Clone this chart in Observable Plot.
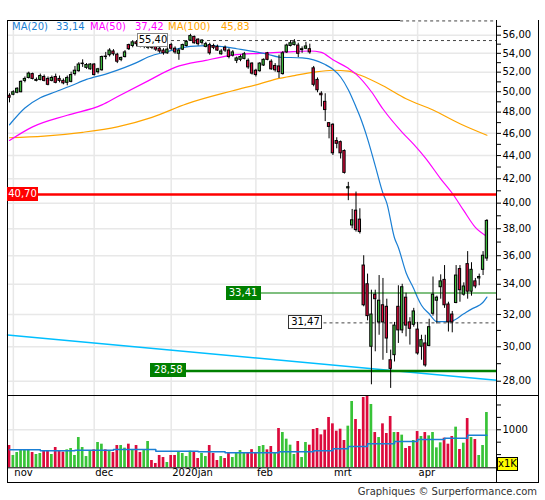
<!DOCTYPE html>
<html><head><meta charset="utf-8">
<script src="https://cdn.jsdelivr.net/npm/d3@7"></script>
<script src="https://cdn.jsdelivr.net/npm/@observablehq/plot@0.6"></script>
<style>
body{margin:0;background:#fff;}
#wrap{position:relative;width:545px;height:500px;font-family:"DejaVu Sans",Verdana,sans-serif;font-size:10px;overflow:hidden;}
#wrap svg{position:absolute;left:0;overflow:visible;}
.abs{position:absolute;white-space:nowrap;}
.lbl{position:absolute;white-space:nowrap;font-size:10px;height:14px;line-height:14px;text-align:center;box-sizing:border-box;}
</style></head><body><div id="wrap"></div>
<script>
// ---------- data ----------
const months = ["nov","dec","2020jan","feb","mrt","apr"];
const monthIdx = [1,22,42,64,84,106];

const open = [49.6,49.7,49.9,49.95,51.1,51.4,51.8,51.1,51.2,51.5, 51.3,51.1,51.5,51.3,51.1,50.9,51.0,51.8,52.1,52.9, 52.45,52.3,52.8,52.0,52.2,53.6,53.8,54.2,53.85,53.3, 53.6,54.9,54.8,55.2,55.1,54.7,54.6,54.9,54.7,54.5, 54.3,54.0,54.9,54.5,53.95,54.4,54.8,55.4,55.8,55.5, 55.15,54.7,54.9,54.8,54.7,53.9,54.6,54.3,53.75,53.2, 53.3,53.4,53.2,52.9,52.15,52.1,52.7,54.0,53.1,52.65, 52.6,51.8,54.1,54.8,54.9,54.85,54.35,54.5,54.45,52.4, 51.2,49.8,49.0,46.95,46.8,45.3,45.2,44.4,41.2,38.25, 39.4,38.7,35.3,34.0,30.0,33.3,31.5,32.6,32.5,29.2, 29.5,32.5,31.0,33.1,31.5,31.35,31.05,30.0,30.2,30.05, 32.05,32.9,33.8,34.3,32.65,32.0,32.75,35.05,33.3,35.4, 33.5,34.2,34.4,35.0,35.8];
const high = [49.8,50.1,50.4,51.1,51.5,52.0,51.9,51.4,51.8,51.7, 51.5,51.6,51.8,51.6,51.3,51.6,52.0,52.6,53.0,53.3, 52.9,52.9,52.9,52.4,53.7,54.1,54.5,54.4,54.0,53.6, 54.3,55.0,55.4,55.4,55.3,55.1,55.1,55.0,54.9,54.7, 54.5,54.6,55.1,54.7,54.5,55.0,55.4,56.1,55.9,55.6, 55.5,55.2,55.1,55.0,54.9,54.4,54.8,54.5,54.3,53.6, 53.8,54.1,53.4,53.0,52.3,53.0,53.4,54.1,53.3,52.9, 53.8,54.2,55.0,55.4,55.5,55.1,54.7,55.2,55.0,52.6, 51.4,50.0,49.8,47.0,46.9,45.6,45.3,44.5,41.7,39.5, 40.9,39.55,36.0,34.7,33.6,33.6,34.6,34.4,33.0,29.8, 31.5,33.9,34.0,33.4,31.8,32.4,31.5,30.7,30.7,31.7, 34.5,33.2,34.65,35.3,32.8,32.2,35.3,35.3,34.1,36.3, 35.5,34.4,34.7,36.3,38.7];
const low = [48.9,49.6,49.8,49.9,50.9,51.3,51.2,51.0,51.1,51.0, 50.6,51.0,50.8,50.9,50.7,50.6,50.9,51.6,52.0,52.5, 52.3,52.2,51.6,51.8,52.1,53.3,53.6,53.7,52.9,53.1, 53.5,54.3,54.6,54.7,54.6,54.5,54.4,54.4,54.2,54.0, 53.8,53.9,54.3,53.9,53.25,54.3,54.7,55.3,55.0,54.8, 54.9,54.6,53.8,54.4,54.2,53.8,54.1,53.4,53.6,52.9, 53.1,53.3,52.3,51.7,51.5,52.0,52.6,53.2,52.2,52.0, 51.35,51.7,54.0,54.7,54.8,53.55,54.0,54.4,53.9,50.5, 49.9,48.5,47.1,45.5,44.0,44.6,43.7,42.4,40.2,38.0, 37.75,37.6,32.5,31.6,27.8,29.7,30.7,29.2,29.6,27.6, 29.1,30.2,30.8,30.6,30.1,31.2,29.5,29.2,28.8,30.0, 31.9,31.4,33.0,32.4,30.9,30.85,32.7,32.8,33.2,33.0, 33.2,33.7,33.9,34.6,35.6];
const close = [49.4,49.95,50.3,51.0,51.3,51.85,51.3,51.2,51.6,51.1, 50.7,51.4,50.9,51.1,50.85,51.4,51.7,52.15,52.8,52.85, 52.75,52.8,51.7,52.3,53.6,53.65,54.3,53.9,53.1,53.5, 54.1,54.45,55.2,55.0,54.8,54.9,54.9,54.6,54.4,54.2, 54.0,54.4,54.5,54.1,54.3,54.9,55.25,55.9,55.1,55.0, 55.4,55.0,54.0,54.6,54.3,54.2,54.3,53.6,54.1,53.45, 53.6,53.9,52.5,51.85,51.7,52.9,53.3,53.3,52.3,52.2, 52.0,54.0,54.85,55.1,55.2,53.95,54.45,54.75,54.1,50.7, 50.15,49.65,48.2,46.6,44.2,45.05,44.2,42.5,41.3,38.65, 37.9,37.75,32.6,31.9,32.0,33.0,32.9,31.5,30.5,28.7, 31.3,31.0,33.8,31.3,31.1,32.2,29.6,30.4,28.9,31.2, 33.3,33.1,34.2,32.6,31.5,31.5,34.6,33.6,33.85,33.5, 35.0,33.85,34.5,36.0,38.6];

const volume = [683,482,542,596,596,596,542,502,522,582, 576,502,643,569,549,596,623,482,844,643, 461,562,596,744,710,596,562,542,683,683, 630,710,603,683,542,582,764,381,321,482, 441,341,482,482,542,522,461,569,542,421, 522,461,683,522,381,461,421,522,441,522, 582,522,542,600,535,663,683,596,663,535, 1026,945,811,690,502,764,441,744,690,1006, 1026,898,992,1248,1120,972,1012,784,1073,1570, 1207,1006,1651,1700,1510,945,844,1120,925,1268, 945,945,892,623,663,784,965,865,945,878, 945,636,737,831,710,865,1053,603,730,1227, 844,804,482,683,1348];
const volUp = [0,1,1,1,1,1,0,1,1,0, 0,1,0,0,0,1,1,1,1,1, 1,1,0,1,1,0,1,0,0,1, 1,0,1,0,0,1,1,0,0,0, 0,1,0,0,1,1,1,1,0,0, 1,1,0,0,0,1,0,0,1,1, 1,1,0,0,0,1,1,0,0,1, 0,1,1,1,1,0,1,1,0,0, 0,0,0,0,0,0,0,0,1,1, 0,0,0,0,1,0,1,0,0,0, 1,0,1,0,0,1,0,1,0,1, 1,1,1,0,0,0,1,0,1,0, 1,0,1,1,1];
const volMaIdx = [0,8,17,27,38,49,56,70,79,84,88,93,100,106,113,119,124];
const volMaVal = [596,576,589,603,569,556,535,556,576,616,663,717,764,804,831,892,892];

const ma20Idx = [0,4,8,12,16,20,25,30,33,36,41,47,52,56,59,64,67,70,76,79,82,84,86,88,90,91,93,95,97,98,100,101,103,105,106,107,109,111,113,115,118,120,122,123,124];
const ma20Val = [46.8,48.4,49.4,50.0,50.6,51.25,51.8,52.5,53.0,53.6,54.2,54.75,54.85,54.7,54.5,54.15,53.9,53.6,53.5,53.3,52.8,52.3,51.5,50.2,48.5,47.6,45.5,43.1,40.8,40.0,37.3,36.6,34.8,33.7,33.1,32.6,32.05,31.55,31.55,31.6,32.05,32.35,32.6,32.8,33.14];
const ma50Idx = [0,6,15,24,28,36,43,51,58,65,72,78,81,84,88,90,94,97,102,105,108,112,115,118,121,124];
const ma50Val = [45.35,46.6,47.7,48.7,49.5,51.1,52.5,53.25,53.8,54.0,54.15,54.25,54.1,53.3,52.4,51.8,50.0,48.3,46.1,45.0,43.8,42.0,40.8,39.4,38.1,37.42];
const ma100Idx = [0,9,19,28,37,46,58,65,70,74,79,84,88,91,97,103,110,117,124];
const ma100Val = [45.6,45.75,46.1,46.6,47.5,48.8,50.1,50.8,51.35,51.65,52.0,52.2,52.1,51.7,50.6,49.3,48.2,46.9,45.83];
const trendIdx = [-0.52,126.49];
const trendVal = [30.72,28.06];

const levelVal = [40.70,33.41,28.58,31.47,55.40];
const levelFrom = [-0.52,60.8,41.4,77.0,37.4];
const levelText = ["40,70","33,41","28,58","31,47","55,40"];
const topLevel = 57.62, topLevelFrom = 101.6;

const priceTicks = [28,30,32,34,36,38,40,42,44,46,48,50,52,54,56];
const minorTicks = [29,31,33,35,37,39,41,43,45,47,49,51,53,55,57];
const volTicks = [500,750,1000,1250,1500];
const legend = [["MA(20)","33,14"],["MA(50)","37,42"],["MA(100)","45,83"]];

// ---------- build ----------
const xDomain = [-0.52,126.49];
const yDomain = [27.21,57.67];
const vDomain = [234,1691];
const RED = "#dc0a3c", GREEN = "#3cb93c", VRED = "#dc0a3c", VGREEN = "#38c338";
const C20 = "#1a7fd4", C50 = "#ff00ff", C100 = "#ffa500";
const font = {fontFamily:"'DejaVu Sans', Verdana, sans-serif", fontSize:"10px", color:"#000", background:"transparent", overflow:"visible"};

const candles = open.map((o,i)=>({i, o, h:high[i], l:low[i], c:close[i]}));
const vols = volume.map((v,i)=>({i, v, up:volUp[i]}));
const pts = (xs, vs) => xs.map((x,k)=>({x, v:vs[k]}));
const fmt = d => d.toFixed(2).replace(".", ",");
const lv = k => [{x1:levelFrom[k], x2:xDomain[1], y:levelVal[k]}];

const main = Plot.plot({
  width:545, height:395, marginTop:20, marginBottom:0, marginLeft:7, marginRight:49,
  style:font,
  x:{domain:xDomain, axis:null},
  y:{type:"log", domain:yDomain},
  marks:[
    Plot.ruleY(priceTicks, {stroke:"#e8e8e8", strokeWidth:1.5}),
    Plot.ruleX(monthIdx, {stroke:"#e8e8e8", strokeWidth:1.5}),
    Plot.axisY({anchor:"right", ticks:priceTicks, tickFormat:fmt, tickSize:4, tickPadding:2, label:null, fill:"#000"}),
    Plot.axisY({anchor:"right", ticks:minorTicks, tickFormat:()=>"", tickSize:4, label:null}),
    Plot.line(pts(trendIdx,trendVal), {x:"x", y:"v", stroke:"#00bfff", strokeWidth:1.5}),
    Plot.line(pts(ma100Idx,ma100Val), {x:"x", y:"v", stroke:C100, strokeWidth:1.2, curve:"monotone-x"}),
    Plot.line(pts(ma50Idx,ma50Val), {x:"x", y:"v", stroke:C50, strokeWidth:1.2, curve:"monotone-x"}),
    Plot.line(pts(ma20Idx,ma20Val), {x:"x", y:"v", stroke:C20, strokeWidth:1.2, curve:"monotone-x"}),
    Plot.ruleY(lv(0), {x1:"x1", x2:"x2", y:"y", stroke:"#ff0000", strokeWidth:2.5}),
    Plot.ruleY(lv(1), {x1:"x1", x2:"x2", y:"y", stroke:"#008000", strokeWidth:1.2}),
    Plot.ruleY(lv(2), {x1:"x1", x2:"x2", y:"y", stroke:"#008000", strokeWidth:2.5}),
    Plot.ruleY(lv(3), {x1:"x1", x2:"x2", y:"y", stroke:"#444", strokeWidth:1, strokeDasharray:"3,3"}),
    Plot.ruleY(lv(4), {x1:"x1", x2:"x2", y:"y", stroke:"#444", strokeWidth:1, strokeDasharray:"3,3"}),
    Plot.ruleX(candles, {x:"i", y1:"l", y2:"h", stroke:"#000", strokeWidth:1}),
    Plot.rect(candles.filter(d=>d.c>=d.o), {x1:d=>d.i-0.3, x2:d=>d.i+0.3, y1:"o", y2:"c", fill:GREEN, stroke:"#000", strokeWidth:1}),
    Plot.rect(candles.filter(d=>d.c<d.o), {x1:d=>d.i-0.3, x2:d=>d.i+0.3, y1:"c", y2:"o", fill:RED, stroke:"#000", strokeWidth:1}),
    Plot.frame({stroke:"#000"}),
    Plot.ruleY([topLevel], {x1:topLevelFrom, x2:xDomain[1], stroke:"#fff", strokeWidth:2}),
    Plot.ruleY([topLevel], {x1:topLevelFrom, x2:xDomain[1], stroke:"#444", strokeWidth:1, strokeDasharray:"3,3"})
  ]
});
main.style.top = "0px";

const vol = Plot.plot({
  width:545, height:105, marginTop:0, marginBottom:32.7, marginLeft:7, marginRight:49,
  style:font,
  x:{domain:xDomain, axis:null},
  y:{domain:vDomain},
  marks:[
    Plot.ruleX(monthIdx, {stroke:"#e8e8e8", strokeWidth:1.5}),
    Plot.ruleY([1000], {stroke:"#e8e8e8", strokeWidth:1.5}),
    Plot.rect(vols.filter(d=>d.up), {x1:d=>d.i-0.35, x2:d=>d.i+0.35, y1:d=>vDomain[0], y2:"v", fill:VGREEN, clip:true}),
    Plot.rect(vols.filter(d=>!d.up), {x1:d=>d.i-0.35, x2:d=>d.i+0.35, y1:d=>vDomain[0], y2:"v", fill:VRED, clip:true}),
    Plot.line(pts(volMaIdx,volMaVal), {x:"x", y:"v", stroke:C20, strokeWidth:1.5, curve:"step-after"}),
    Plot.axisY({anchor:"right", ticks:volTicks, tickFormat:d=>d===1000?"1000":"", tickSize:4, tickPadding:2, label:null, fill:"#000"}),
    Plot.frame({stroke:"#000"}),
    Plot.text(monthIdx, {x:d=>d, text:(d,k)=>months[k], frameAnchor:"bottom", dy:8, dx:1, textAnchor:"start", fill:"#000", fontSize:10})
  ]
});
vol.style.top = "395px";

const wrap = document.getElementById("wrap");
wrap.append(main, vol);

function div(cls, css, text){
  const e = document.createElement("div");
  e.className = cls; Object.assign(e.style, css);
  if (text != null) e.textContent = text;
  wrap.append(e); return e;
}
// frame decorations
div("abs", {left:"6.5px", top:"394.5px", width:"532px", height:"88px", border:"1px solid #000", boxSizing:"border-box"});
div("abs", {left:"537.5px", top:"19.5px", width:"1px", height:"376px", background:"#000"});
div("abs", {left:"495.5px", top:"467px", width:"1px", height:"15px", background:"#000"});
div("abs", {left:"497px", top:"457px", width:"21px", height:"14px", background:"#ffff00", border:"1px solid #000", boxSizing:"border-box", fontSize:"10px", lineHeight:"12px", textAlign:"center"}, "x1K");

// legend
const lgX = [[12,56],[90,135],[168,221]];
const lgC = [C20, C50, C100];
legend.forEach((p,k)=>{
  div("abs", {left:lgX[k][0]+"px", top:"20px", color:lgC[k], fontSize:"10px", lineHeight:"13px"}, p[0]);
  div("abs", {left:lgX[k][1]+"px", top:"20px", color:lgC[k], fontSize:"10px", lineHeight:"13px"}, p[1]);
});

// level labels positioned with the plot's scales
const xs = main.scale("x"), ys = main.scale("y");
const lblStyle = [
  {bg:"#ff0000", fg:"#fff", bd:"none", w:31, anchor:"left"},
  {bg:"#008000", fg:"#fff", bd:"none", w:35},
  {bg:"#008000", fg:"#fff", bd:"none", w:36},
  {bg:"#fff", fg:"#000", bd:"1px solid #333", w:34},
  {bg:"#fff", fg:"#000", bd:"1px solid #888", w:31}
];
levelVal.forEach((v,k)=>{
  const s = lblStyle[k];
  const cx = xs.apply(levelFrom[k]);
  const cy = ys.apply(v);
  const left = s.anchor === "left" ? cx : cx - s.w/2;
  div("lbl", {left:left+"px", top:(cy-7)+"px", width:s.w+"px", background:s.bg, color:s.fg, border:s.bd, lineHeight:(s.bd==="none"?14:12)+"px"}, levelText[k]);
});

// footer
div("abs", {right:"8px", top:"486px", fontSize:"10px", lineHeight:"12px", color:"#333"}, "Graphiques © Surperformance.com");
</script></body></html>
